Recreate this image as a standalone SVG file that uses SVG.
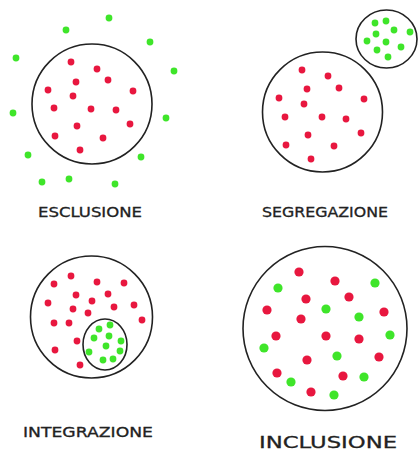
<svg xmlns="http://www.w3.org/2000/svg" width="420" height="452" viewBox="0 0 420 452">
<style>
.ring{fill:none;stroke:#222;stroke-width:1.6}
.r{fill:#e8173f}
.g{fill:#3fe52a}
.lbl{font-family:"DejaVu Sans",sans-serif;font-size:14px;fill:#222;stroke:#222;stroke-width:0.3;text-anchor:start}
</style>
<rect width="420" height="452" fill="#fff"/>
<g id="esclusione">
<circle class="ring" cx="92" cy="104" r="60"/>
<g class="r">
<circle cx="71" cy="62" r="3.4"/><circle cx="97" cy="69" r="3.4"/><circle cx="76" cy="82" r="3.4"/><circle cx="108" cy="80" r="3.4"/><circle cx="48" cy="90" r="3.4"/><circle cx="133" cy="91" r="3.4"/><circle cx="73" cy="96" r="3.4"/><circle cx="54" cy="108" r="3.4"/><circle cx="91" cy="109" r="3.4"/><circle cx="116" cy="110" r="3.4"/><circle cx="77" cy="126" r="3.4"/><circle cx="130" cy="124" r="3.4"/><circle cx="55" cy="136" r="3.4"/><circle cx="103" cy="138" r="3.4"/><circle cx="80" cy="150" r="3.4"/>
</g>
<g class="g">
<circle cx="109" cy="18" r="3.4"/><circle cx="66" cy="30" r="3.4"/><circle cx="150" cy="42" r="3.4"/><circle cx="16" cy="58" r="3.4"/><circle cx="174" cy="71" r="3.4"/><circle cx="13" cy="113" r="3.4"/><circle cx="166" cy="118" r="3.4"/><circle cx="28" cy="155" r="3.4"/><circle cx="141" cy="157" r="3.4"/><circle cx="42" cy="182" r="3.4"/><circle cx="69" cy="179" r="3.4"/><circle cx="115" cy="184" r="3.4"/>
</g>
<text class="lbl" x="38" y="217" textLength="104" lengthAdjust="spacingAndGlyphs">ESCLUSIONE</text>
</g>
<g id="segregazione">
<circle class="ring" cx="322.5" cy="112" r="60"/>
<ellipse class="ring" cx="386.5" cy="39" rx="30.5" ry="29"/>
<g class="r">
<circle cx="302" cy="70" r="3.4"/><circle cx="328" cy="76" r="3.4"/><circle cx="307" cy="89" r="3.4"/><circle cx="339" cy="88" r="3.4"/><circle cx="279" cy="98" r="3.4"/><circle cx="364" cy="99" r="3.4"/><circle cx="304" cy="104" r="3.4"/><circle cx="285" cy="117" r="3.4"/><circle cx="322" cy="117" r="3.4"/><circle cx="346" cy="119" r="3.4"/><circle cx="308" cy="135" r="3.4"/><circle cx="361" cy="133" r="3.4"/><circle cx="286" cy="145" r="3.4"/><circle cx="334" cy="146" r="3.4"/><circle cx="311" cy="159" r="3.4"/>
</g>
<g class="g">
<circle cx="375" cy="23" r="3.4"/><circle cx="386" cy="21" r="3.4"/><circle cx="394" cy="30" r="3.4"/><circle cx="410" cy="32" r="3.4"/><circle cx="376" cy="34" r="3.4"/><circle cx="367" cy="41" r="3.4"/><circle cx="386" cy="42" r="3.4"/><circle cx="401" cy="47" r="3.4"/><circle cx="377" cy="50" r="3.4"/><circle cx="388" cy="57" r="3.4"/>
</g>
<text class="lbl" x="262" y="217" textLength="126" lengthAdjust="spacingAndGlyphs">SEGREGAZIONE</text>
</g>
<g id="integrazione">
<circle class="ring" cx="91.5" cy="317" r="61"/>
<ellipse class="ring" cx="105" cy="344.5" rx="22" ry="25.5"/>
<g class="r">
<circle cx="71" cy="276" r="3.4"/><circle cx="54" cy="284" r="3.4"/><circle cx="97" cy="282" r="3.4"/><circle cx="124" cy="283" r="3.4"/><circle cx="76" cy="295" r="3.4"/><circle cx="108" cy="294" r="3.4"/><circle cx="48" cy="303" r="3.4"/><circle cx="92" cy="301" r="3.4"/><circle cx="134" cy="305" r="3.4"/><circle cx="73" cy="309" r="3.4"/><circle cx="114" cy="307" r="3.4"/><circle cx="88" cy="313" r="3.4"/><circle cx="54" cy="323" r="3.4"/><circle cx="69" cy="323" r="3.4"/><circle cx="142" cy="320" r="3.4"/><circle cx="77" cy="341" r="3.4"/><circle cx="55" cy="350" r="3.4"/><circle cx="80" cy="365" r="3.4"/>
</g>
<g class="g">
<circle cx="99" cy="329" r="3.4"/><circle cx="110" cy="325" r="3.4"/><circle cx="94" cy="338" r="3.4"/><circle cx="109" cy="336" r="3.4"/><circle cx="121" cy="341" r="3.4"/><circle cx="106" cy="346" r="3.4"/><circle cx="89" cy="352" r="3.4"/><circle cx="120" cy="351" r="3.4"/><circle cx="103" cy="360" r="3.4"/><circle cx="113" cy="359" r="3.4"/>
</g>
<text class="lbl" x="23" y="437" textLength="130" lengthAdjust="spacingAndGlyphs">INTEGRAZIONE</text>
</g>
<g id="inclusione">
<circle class="ring" cx="325" cy="328.5" r="82"/>
<g class="r">
<circle cx="299" cy="272" r="4.6"/><circle cx="335" cy="281" r="4.6"/><circle cx="306" cy="299" r="4.6"/><circle cx="349" cy="297" r="4.6"/><circle cx="267" cy="310" r="4.6"/><circle cx="301" cy="319" r="4.6"/><circle cx="384" cy="312" r="4.6"/><circle cx="276" cy="336" r="4.6"/><circle cx="326" cy="336" r="4.6"/><circle cx="359" cy="339" r="4.6"/><circle cx="379" cy="357" r="4.6"/><circle cx="307" cy="360" r="4.6"/><circle cx="277" cy="373" r="4.6"/><circle cx="343" cy="376" r="4.6"/><circle cx="311" cy="392" r="4.6"/>
</g>
<g class="g">
<circle cx="278" cy="288" r="4.6"/><circle cx="375" cy="283" r="4.6"/><circle cx="326" cy="309" r="4.6"/><circle cx="359" cy="317" r="4.6"/><circle cx="390" cy="335" r="4.6"/><circle cx="264" cy="348" r="4.6"/><circle cx="337" cy="356" r="4.6"/><circle cx="291" cy="382" r="4.6"/><circle cx="364" cy="377" r="4.6"/><circle cx="334" cy="395" r="4.6"/>
</g>
<text class="lbl" x="259" y="448" style="font-size:16px" textLength="138" lengthAdjust="spacingAndGlyphs">INCLUSIONE</text>
</g>
</svg>
